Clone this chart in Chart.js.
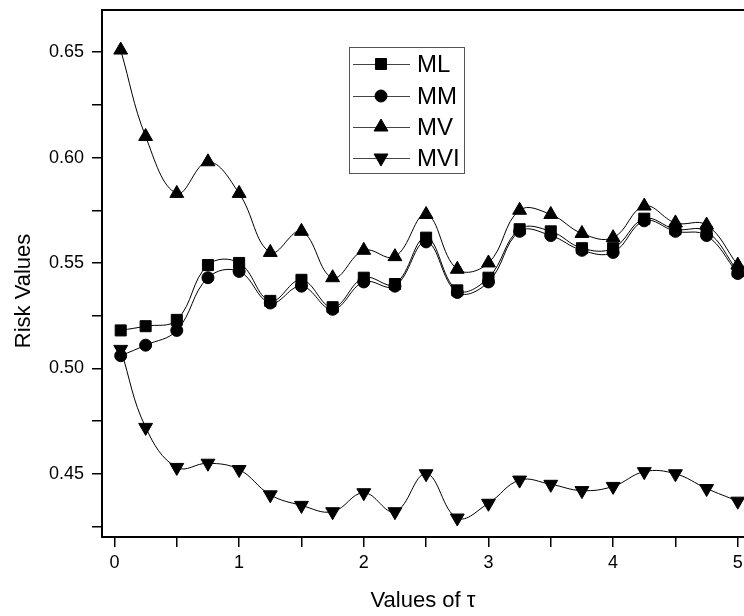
<!DOCTYPE html>
<html>
<head>
<meta charset="utf-8">
<title>Risk Values</title>
<script src="https://cdn.jsdelivr.net/npm/chart.js@4.4.1/dist/chart.umd.min.js"></script>
<style>
  html, body { margin: 0; padding: 0; background: #fff; }
  #chart { display: block; }
</style>
</head>
<body>
<canvas id="chart" width="744" height="616"></canvas>
<script>
// valeurs de tau (axe x)
const tau = [0.05, 0.25, 0.5, 0.75, 1.0, 1.25, 1.5, 1.75, 2.0, 2.25, 2.5, 2.75, 3.0, 3.25, 3.5, 3.75, 4.0, 4.25, 4.5, 4.75, 5.0];

// séries
const ml  = [0.518, 0.520, 0.523, 0.549, 0.550, 0.532, 0.542, 0.529, 0.543, 0.540, 0.562, 0.537, 0.543, 0.566, 0.565, 0.557, 0.557, 0.571, 0.566, 0.565, 0.546];
const mm  = [0.506, 0.511, 0.518, 0.543, 0.546, 0.531, 0.539, 0.528, 0.541, 0.539, 0.560, 0.536, 0.541, 0.565, 0.563, 0.556, 0.555, 0.570, 0.565, 0.563, 0.545];
const mv  = [0.651, 0.610, 0.583, 0.598, 0.583, 0.555, 0.565, 0.543, 0.556, 0.553, 0.573, 0.547, 0.550, 0.575, 0.573, 0.564, 0.562, 0.577, 0.569, 0.568, 0.549];
const mvi = [0.509, 0.472, 0.453, 0.455, 0.452, 0.440, 0.435, 0.432, 0.441, 0.432, 0.450, 0.429, 0.436, 0.447, 0.445, 0.442, 0.444, 0.451, 0.450, 0.443, 0.437];

const seriesNames = ["ML", "MM", "MV", "MVI"];

// graduations
const xTicks = [0, 0.5, 1, 1.5, 2, 2.5, 3, 3.5, 4, 4.5, 5];
const yTicks = [0.425, 0.45, 0.475, 0.5, 0.525, 0.55, 0.575, 0.6, 0.625, 0.65];

const FONT = "'Liberation Sans', Arial, sans-serif";

function pts(values) {
  return values.map((v, i) => ({ x: tau[i], y: v }));
}

function serie(label, values, style, radius, rotation) {
  return {
    label: label,
    data: pts(values),
    borderColor: "#000",
    borderWidth: 1,
    backgroundColor: "#000",
    pointStyle: style,
    pointRadius: radius,
    pointRotation: rotation || 0,
    pointBorderWidth: 1,
    pointBackgroundColor: "#000",
    pointBorderColor: "#000",
    tension: 0.4,
    clip: false
  };
}

// pas de marge automatique autour des axes
function noPadding(s) {
  s.paddingTop = 0;
  s.paddingBottom = 0;
  s.paddingLeft = 0;
  s.paddingRight = 0;
}

// cadre du haut, légende et titre vertical
const decor = {
  id: "decor",
  afterDraw(chart) {
    const ctx = chart.ctx;
    const a = chart.chartArea;
    ctx.save();
    ctx.strokeStyle = "#000";
    ctx.lineWidth = 2;
    ctx.beginPath();
    ctx.moveTo(a.left - 1, a.top);
    ctx.lineTo(a.right, a.top);
    ctx.stroke();

    // légende
    ctx.lineWidth = 1;
    ctx.strokeStyle = "#555";
    ctx.strokeRect(349.5, 47.5, 115, 126);
    const rows = [64, 96, 127, 158];
    ctx.font = "24px " + FONT;
    ctx.textBaseline = "middle";
    ctx.fillStyle = "#000";
    chart.data.datasets.forEach((ds, i) => {
      const y = rows[i];
      ctx.strokeStyle = "#444";
      ctx.lineWidth = 1;
      ctx.beginPath();
      ctx.moveTo(353, y + 0.5);
      ctx.lineTo(410, y + 0.5);
      ctx.stroke();
      ctx.fillStyle = "#000";
      ctx.strokeStyle = "#000";
      Chart.helpers.drawPoint(ctx, {
        pointStyle: ds.pointStyle,
        radius: ds.pointRadius,
        rotation: ds.pointRotation,
        borderWidth: 1
      }, 381, y);
      ctx.fillStyle = "#000";
      ctx.fillText(ds.label, 417, y + 1);
    });

    // titre de l'axe y
    ctx.translate(24, 291);
    ctx.rotate(-Math.PI / 2);
    ctx.textAlign = "center";
    ctx.textBaseline = "middle";
    ctx.font = "22px " + FONT;
    ctx.fillText("Risk Values", 0, 0);
    ctx.restore();
  }
};

const ctx = document.getElementById("chart").getContext("2d");
const chart = new Chart(ctx, {
  type: "line",
  data: {
    datasets: [
      serie(seriesNames[0], ml, "rect", 7.8),
      serie(seriesNames[1], mm, "circle", 6),
      serie(seriesNames[2], mv, "triangle", 8),
      serie(seriesNames[3], mvi, "triangle", 8, 180)
    ]
  },
  options: {
    responsive: false,
    devicePixelRatio: 1,
    animation: false,
    layout: { autoPadding: false, padding: { top: 10, right: 0, left: 0, bottom: 0 } },
    plugins: {
      legend: { display: false },
      tooltip: { enabled: false }
    },
    scales: {
      x: {
        type: "linear",
        min: -0.1,
        max: 5.05,
        afterFit: s => { s.height = 79; noPadding(s); },
        afterBuildTicks: s => { s.ticks = xTicks.map(v => ({ value: v })); },
        border: { display: true, color: "#000", width: 2 },
        grid: { drawOnChartArea: false, drawTicks: true, tickLength: 10, color: "#000", lineWidth: 1.5 },
        ticks: {
          color: "#000",
          padding: 5,
          maxRotation: 0,
          font: { family: FONT, size: 18 },
          callback: v => Number.isInteger(v) ? String(v) : ""
        },
        title: {
          display: true,
          text: "Values of τ",
          color: "#000",
          font: { family: FONT, size: 22 },
          padding: { top: 4, bottom: 2 }
        }
      },
      y: {
        min: 0.42,
        max: 0.67,
        afterFit: s => { s.width = 102; noPadding(s); },
        afterBuildTicks: s => { s.ticks = yTicks.map(v => ({ value: v })); },
        border: { display: true, color: "#000", width: 2 },
        grid: { drawOnChartArea: false, drawTicks: true, tickLength: 10, color: "#000", lineWidth: 1.5 },
        ticks: {
          color: "#000",
          padding: 8,
          font: { family: FONT, size: 18 },
          callback: v => Math.abs(v * 20 - Math.round(v * 20)) < 1e-6 ? v.toFixed(2) : ""
        }
      }
    }
  },
  plugins: [decor]
});
</script>
</body>
</html>
